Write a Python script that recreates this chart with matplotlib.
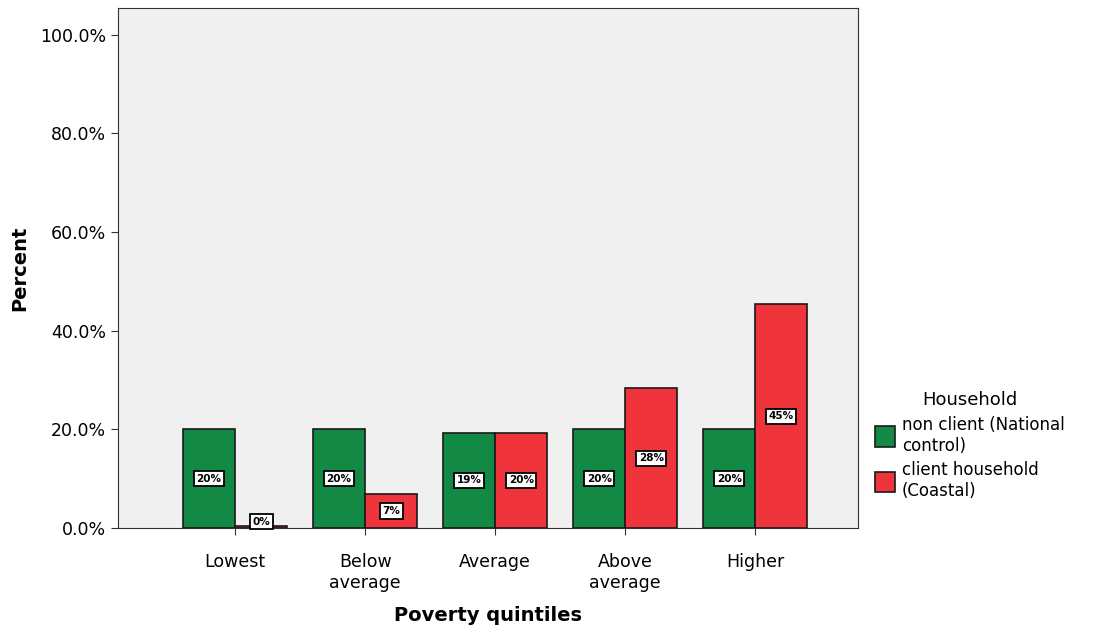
import matplotlib
matplotlib.use("Agg")
import matplotlib.pyplot as plt
import numpy as np

categories = ['Lowest', 'Below\naverage', 'Average', 'Above\naverage', 'Higher']
non_client = [20.0, 20.0, 19.3, 20.0, 20.0]
client = [0.5, 6.9, 19.3, 28.3, 45.3]
non_client_labels = ['20%', '20%', '19%', '20%', '20%']
client_labels = ['0%', '7%', '20%', '28%', '45%']

green = '#128a45'
red = '#f0343c'

fig = plt.figure(figsize=(10.93, 6.32), dpi=100)
ax = fig.add_axes([0.108, 0.1646, 0.677, 0.822])
ax.set_facecolor('#f0f0f0')

x = np.arange(len(categories))
w = 0.4
b1 = ax.bar(x - w / 2, non_client, w, color=green, edgecolor='#1a1a1a', linewidth=1.2,
            label='non client (National\ncontrol)')
b2 = ax.bar(x + w / 2, client, w, color=red, edgecolor='#1a1a1a', linewidth=1.2,
            label='client household\n(Coastal)')

box = dict(boxstyle='square,pad=0.25', facecolor='white', edgecolor='black', linewidth=1.3)
for xs, vals, labs in [(x - w / 2, non_client, non_client_labels), (x + w / 2, client, client_labels)]:
    for xi, v, lab in zip(xs, vals, labs):
        ax.text(xi, max(v / 2, 1.3), lab, ha='center', va='center', fontsize=7.5,
                fontweight='bold', bbox=box)

ax.set_xlim(-0.9, 4.79)
ax.set_ylim(0, 105.3)
ax.set_yticks([0, 20, 40, 60, 80, 100])
ax.set_yticklabels(['0.0%', '20.0%', '40.0%', '60.0%', '80.0%', '100.0%'], fontsize=12.5)
ax.set_xticks(x)
ax.set_xticklabels(categories, fontsize=12.5)
ax.tick_params(axis='both', direction='out', length=5, color='#333333')
ax.tick_params(axis='x', pad=13)

for s in ax.spines.values():
    s.set_color('#333333')

ax.set_ylabel('Percent', fontsize=14, fontweight='bold', labelpad=8)
ax.set_xlabel('Poverty quintiles', fontsize=14, fontweight='bold', labelpad=10)

leg = fig.legend(handles=[b1, b2], title='Household', loc='center left',
                 bbox_to_anchor=(0.787, 0.295), frameon=False, fontsize=12,
                 title_fontsize=13, handlelength=1.2, handleheight=1.5,
                 handletextpad=0.4, labelspacing=0.4)
for h in leg.legend_handles:
    h.set_linewidth(1.2)

fig.savefig('out.png', dpi=100)
